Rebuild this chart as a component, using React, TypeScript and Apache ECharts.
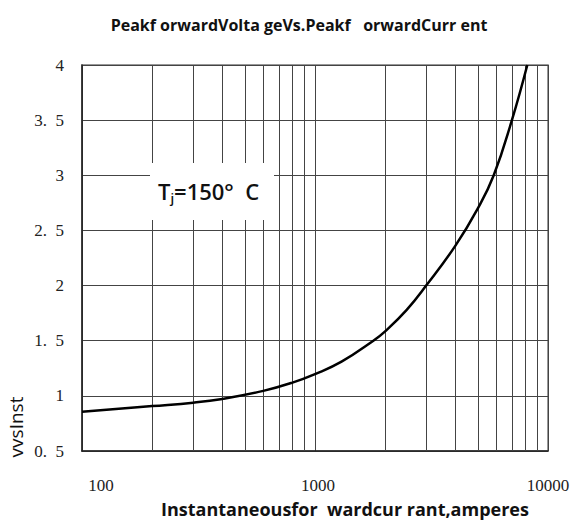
import React, { useEffect, useRef } from "react";
import * as echarts from "echarts";

const currents = [100, 200, 300, 400, 600, 800, 1000, 1300, 1780, 2000, 2475, 3000, 4000, 5000, 5850, 7000, 8150];
const voltages = [0.855, 0.907, 0.938, 0.972, 1.045, 1.12, 1.197, 1.31, 1.5, 1.585, 1.78, 2.0, 2.36, 2.7, 3.0, 3.5, 4.0];
const minorCurrents = [200, 300, 400, 500, 600, 700, 800, 900, 2000, 3000, 4000, 5000, 6000, 7000, 8000, 9000];
const titleText = "Peakf orwardVolta geVs.Peakf   orwardCurr ent";
const xName = "Instantaneousfor  wardcur rant,amperes";
const yName = "vvsInst";

const serif = "'Liberation Serif', 'DejaVu Serif', serif";

export default function App() {
  const ref = useRef<HTMLDivElement>(null);
  useEffect(() => {
    if (!ref.current) return;
    const chart = echarts.init(ref.current, null, { renderer: "svg" });
    const gridColor = "#444";
    chart.setOption({
      animation: false,
      backgroundColor: "#fff",
      textStyle: { fontFamily: serif },
      title: {
        text: titleText,
        left: 294,
        textAlign: "center",
        top: 12,
        textStyle: { fontFamily: "Open Sans", fontWeight: "bold", fontSize: 16, color: "#111" },
      },
      grid: { left: 82, right: 28, top: 65, bottom: 75, show: true, borderColor: "#777", borderWidth: 1.5 },
      xAxis: {
        type: "log",
        logBase: 10,
        min: 100,
        max: 10000,
        axisLine: { show: true, lineStyle: { color: "#222", width: 1.5 } },
        axisTick: { show: false },
        splitLine: { show: true, lineStyle: { color: gridColor, width: 1 } },
        axisLabel: {
          margin: 26,
          fontFamily: serif,
          fontSize: 17,
          color: "#222",
          formatter: (v: number) => (v === 100 ? "{l|100}" : v === 1000 ? "{m|1000}" : "{n|" + v + "}"),
          rich: {
            l: { fontFamily: serif, fontSize: 17, color: "#222", padding: [0, 0, 0, 38] },
            m: { fontFamily: serif, fontSize: 17, color: "#222", padding: [0, 0, 0, 6] },
            n: { fontFamily: serif, fontSize: 17, color: "#222" },
          },
        },
      },
      yAxis: {
        type: "value",
        min: 0.5,
        max: 4,
        interval: 0.5,
        axisLine: { show: true, lineStyle: { color: "#222", width: 1.5 } },
        axisTick: { show: false },
        splitLine: { show: true, lineStyle: { color: gridColor, width: 1 } },
        axisLabel: {
          margin: 18,
          fontFamily: serif,
          fontSize: 17,
          color: "#222",
          formatter: (v: number) => "{s|" + String(v).replace(".", ".\u2002") + "}",
          rich: {
            s: { fontFamily: serif, fontSize: 17, color: "#222" },
          },
        },
      },
      series: [
        {
          type: "line",
          data: currents.map((c, i) => [c, voltages[i]]),
          smooth: 0.45,
          showSymbol: false,
          lineStyle: { color: "#000", width: 2.5 },
          z: 5,
          markLine: {
            silent: true,
            symbol: "none",
            label: { show: false },
            lineStyle: { type: "solid", color: gridColor, width: 1 },
            data: minorCurrents.map((c) => ({ xAxis: c })),
            z: 1,
          },
        },
      ],
      graphic: [
        {
          type: "rect",
          shape: { x: 150, y: 163, width: 124, height: 57 },
          style: { fill: "#fff" },
          z: 100,
        },
        {
          type: "text",
          x: 158,
          y: 191,
          z: 101,
          style: {
            text: "{a|T}{b|j}{a|=150°  C}",
            textVerticalAlign: "middle",
            rich: {
              a: { fontFamily: "Open Sans", fontSize: 22, fontWeight: 600, fill: "#111" },
              b: { fontFamily: "Open Sans", fontSize: 13, fontWeight: 600, fill: "#111", padding: [14, 0, 0, 0] },
            },
          },
        },
        {
          type: "text",
          x: 345,
          y: 509,
          style: {
            text: xName,
            textAlign: "center",
            textVerticalAlign: "middle",
            fontFamily: "Open Sans",
            fontWeight: "bold",
            fontSize: 18,
            fill: "#111",
          },
        },
        {
          type: "text",
          x: 16,
          y: 427,
          rotation: Math.PI / 2,
          style: {
            text: yName,
            textAlign: "center",
            textVerticalAlign: "middle",
            fontFamily: "Open Sans",
            fontWeight: 500,
            fontSize: 19,
            fill: "#111",
          },
        },
      ],
    });
    return () => chart.dispose();
  }, []);
  return <div ref={ref} style={{ position: "fixed", left: 0, top: 0, width: 576, height: 526 }} />;
}
